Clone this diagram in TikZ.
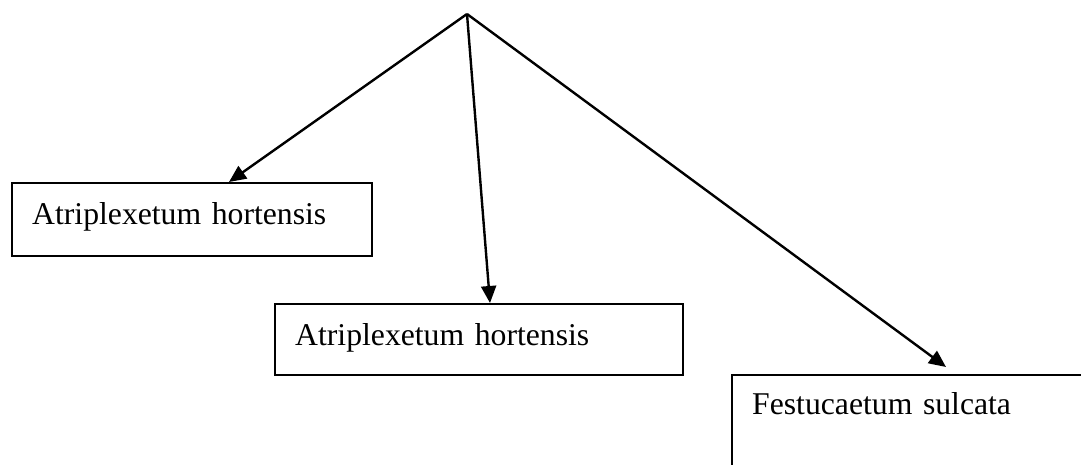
\documentclass[tikz,border=0pt]{standalone}
\usepackage{fontspec}
\setmainfont{Liberation Serif}
\usetikzlibrary{arrows.meta}
\begin{document}
\begin{tikzpicture}[x=1pt,y=-1pt,
  box/.style={draw=black,line width=2.4pt,rectangle,anchor=north west,inner xsep=20pt,inner ysep=0pt,
    align=left,font=\fontsize{31.7}{38}\selectfont},
  arr/.style={line width=2.4pt,-{Triangle[length=17pt,width=15pt]}}]
\useasboundingbox (0,0) rectangle (1081,465);
\clip (0,0) rectangle (1081,465);
\coordinate (apex) at (467,14);
\node[box,text width=320pt,text height=41pt,text depth=32pt] (b1) at (11,182) {Atriplexetum hortensis};
\node[box,text width=368pt,text height=41pt,text depth=30pt] (b2) at (274,303) {Atriplexetum hortensis};
\node[box,text width=360pt,text height=39pt,text depth=90pt] (b3) at (731,374) {Festucaetum sulcata};
\draw[arr] (apex) -- ([xshift=218pt]b1.north west);
\draw[arr] (apex) -- ([xshift=216pt]b2.north west);
\draw[arr] (apex) -- ([xshift=215pt,yshift=7pt]b3.north west);
\end{tikzpicture}
\end{document}
